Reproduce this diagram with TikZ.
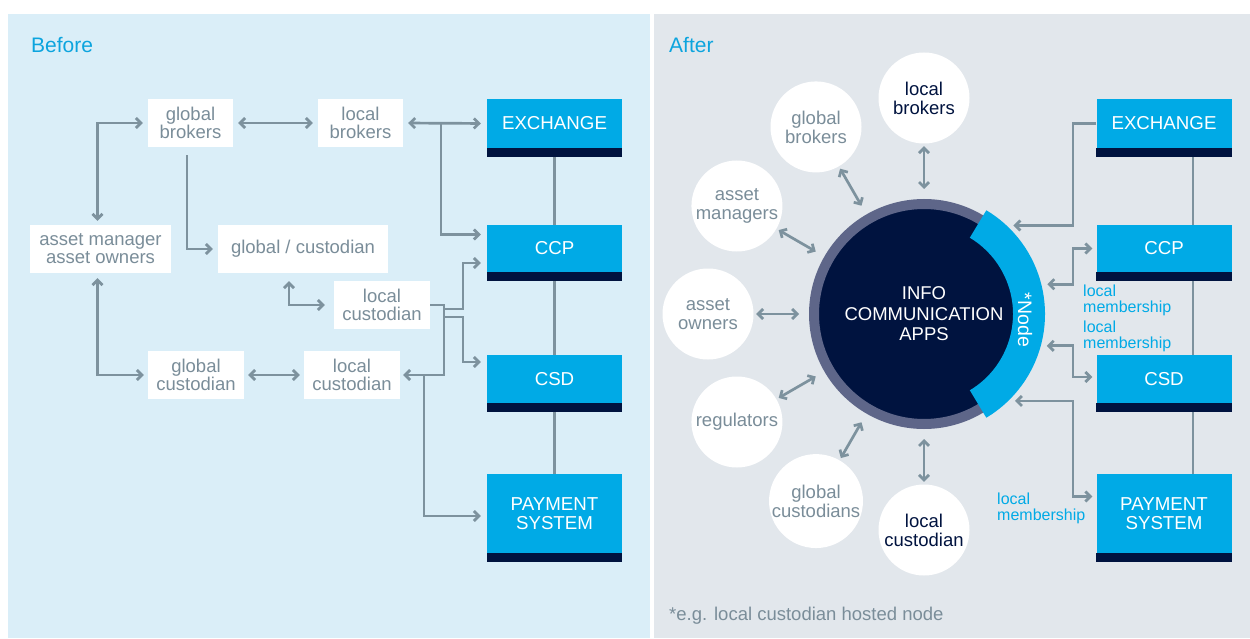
\documentclass[tikz,border=0pt]{standalone}
\usepackage{fontspec}
\setmainfont{Liberation Sans}
\usetikzlibrary{arrows.meta}

\definecolor{beforebg}{HTML}{DAEEF8}
\definecolor{afterbg}{HTML}{E2E7EC}
\definecolor{wire}{HTML}{7D929E}
\definecolor{greytext}{HTML}{7A8D99}
\definecolor{fmicyan}{HTML}{00AAE6}
\definecolor{heading}{HTML}{0CA4DE}
\definecolor{navy}{HTML}{00133F}
\definecolor{ringgrey}{HTML}{5E6689}
\newcommand{\fsz}[2]{\fontsize{#1}{#2}\selectfont}

\tikzset{
  link/.style = {draw=wire, line width=2.7pt},
  arr/.style = {link, -{Straight Barb[length=5pt,width=10pt]}, shorten >=5pt},
  both/.style = {link, {Straight Barb[length=5pt,width=10pt]}-{Straight Barb[length=5pt,width=10pt]},
    shorten >=5pt, shorten <=5pt},
  party/.style = {rectangle, fill=white, text=greytext, align=center, inner sep=0pt,
    minimum height=48pt, font=\fsz{18.5}{18}},
  fmi/.style = {rectangle, fill=fmicyan, text=white, align=center, inner sep=0pt,
    minimum width=135pt, minimum height=48pt, font=\fsz{18.7}{19}},
  sat/.style = {circle, fill=white, align=center, inner sep=0pt, minimum size=91pt,
    font=\fsz{18.5}{19}},
  memb/.style = {text=fmicyan, align=left, inner sep=0pt, anchor=north west, font=\fsz{16}{16}},
  title/.style = {text=heading, inner sep=0pt, anchor=base west, font=\fsz{21}{21}}
}

\begin{document}
\begin{tikzpicture}[x=1pt,y=-1pt]

\fill[white] (0,0) rectangle (1250,639);
\useasboundingbox (0,0) rectangle (1250,639);
\fill[beforebg] (8,14) rectangle (650,638);
\fill[afterbg] (654,14) rectangle (1250,638);

\node[title] (before) at (31,53) {Before};
\node[title] (after) at (669,53) {After};

% before: parties
\node[party, minimum width=85pt] (gb) at (190.5,123) {global\\brokers};
\node[party, minimum width=85pt, right of=gb, node distance=170pt] (lb) {local\\brokers};
\node[party, minimum width=141pt] (am) at (100.5,249) {asset manager\\asset owners};
\node[party, minimum width=170pt] (gcu) at (303,249) {global / custodian};
\node[party, minimum width=96pt] (lcu) at (382,305) {local\\custodian};
\node[party, minimum width=96pt] (gcl) at (196,375) {global\\custodian};
\node[party, minimum width=96pt, right of=gcl, node distance=156pt] (lcl) {local\\custodian};

% before: infrastructure
\node[fmi, minimum height=49pt] (ex) at (554.5,123.5) {EXCHANGE};
\node[fmi, minimum height=47pt] (ccp) at (554.5,248.5) {CCP};
\node[fmi] (csd) at (554.5,379) {CSD};
\node[fmi, minimum height=79pt] (pay) at (554.5,513.5) {PAYMENT\\SYSTEM};

\draw[link] (ex) -- (ccp);
\draw[link] (ccp) -- (csd);
\draw[link] (csd) -- (pay);

\coordinate (lbj) at (441,123);
\coordinate (lcj) at (444,305);
\coordinate (lc1) at (444,309);
\coordinate (lc2) at (444,317);
\coordinate (lpj) at (424,375);

\draw[both] (gb) -- (lb);
\draw[both, shorten >=6pt] (lb.east) -- (ex.west);
\draw[arr, shorten >=6pt] (lbj) |- ([yshift=14pt]ccp.west);
\draw[both, shorten <=4pt] ([xshift=-3pt]am.north) |- (gb.west);
\draw[arr] ([xshift=-3.5pt,yshift=-8pt]gb.south) |- (gcu.west);
\draw[both, shorten <=8pt, shorten >=9pt] ([xshift=-14pt]gcu.south) |- (lcu.west);
\draw[arr, shorten >=3pt] (lcu.east) -- (lcj) |- (lcl.east);
\draw[arr, shorten >=6pt] (lc1) -- ++(19,0) |- ([yshift=-14.5pt]ccp.west);
\draw[arr, shorten >=6pt] (lc2) -- ++(19,0) |- ([yshift=17pt]csd.west);
\draw[arr, shorten >=6pt] (lpj) |- ([yshift=-2.5pt]pay.west);
\draw[both, shorten >=4pt] ([xshift=-3pt]am.south) |- (gcl.west);
\draw[both, shorten >=4pt, shorten <=4pt] (gcl) -- (lcl);

% after: info communication apps
\node[circle, fill=navy, draw=ringgrey, line width=10pt, minimum size=220pt, inner sep=0pt,
  text=white, align=center, font=\fsz{18.5}{20.5}] (ica) at (924,314) {INFO\\COMMUNICATION\\APPS};
\fill[fmicyan] ([shift={(-59:121)}]ica.center) arc[start angle=-59, end angle=59, radius=121]
  -- ([shift={(59:89)}]ica.center) arc[start angle=59, end angle=-59, radius=89] -- cycle;
\node[rotate=-90, text=white, inner sep=0pt, font=\fsz{19.5}{19.5}] (nd) at (1025,320) {*Node};

\foreach \ang/\nm/\col/\txt in {90/slb/navy/{local\\brokers}, 120/sgb/greytext/{global\\brokers},
    150/sam/greytext/{asset\\managers}, 180/sao/greytext/{asset\\owners},
    210/srg/greytext/{regulators}, 240/sgc/greytext/{global\\custodians},
    270/slc/navy/{local\\custodian}}{
  \node[sat, text=\col] (\nm) at ([shift={(-\ang:216)}]ica.center) {\txt};
  \draw[both, shorten <=2.5pt, shorten >=10pt] (\nm) -- (ica);
}

% after: infrastructure
\node[fmi, minimum height=49pt, right of=ex, node distance=609.5pt] (rex) {EXCHANGE};
\node[fmi, minimum height=47pt, right of=ccp, node distance=609.5pt] (rccp) {CCP};
\node[fmi, right of=csd, node distance=609.5pt] (rcsd) {CSD};
\node[fmi, minimum height=79pt, right of=pay, node distance=609.5pt] (rpay) {PAYMENT\\SYSTEM};

\draw[link] ([xshift=29pt]rex.south) -- ([xshift=29pt]rccp.north);
\draw[link] ([xshift=29pt]rccp.south) -- ([xshift=29pt]rcsd.north);
\draw[link] ([xshift=29pt]rcsd.south) -- ([xshift=29pt]rpay.north);

\coordinate (rbus) at (1073,313);
\foreach \ang/\nm in {-46/cex, -14/cccp, 15/ccsd, 45/cpay}
  \coordinate (\nm) at ([shift={(\ang:123)}]ica.center);

\draw[arr, shorten >=4pt] (rex.west) -| (rbus |- cex) -- (cex);
\draw[both, shorten <=4pt, shorten >=4pt] (cccp) -- (rbus |- cccp) |- (rccp.west);
\draw[both, shorten <=4pt, shorten >=4pt] (ccsd) -- (rbus |- ccsd) |- ([yshift=2pt]rcsd.west);
\draw[both, shorten <=4pt, shorten >=4pt] (cpay) -- (rbus |- cpay) |- ([yshift=17pt]rpay.west);

\foreach \b in {ex,ccp,csd,pay,rex,rccp,rcsd,rpay}
  \fill[navy] (\b.south west) rectangle ([yshift=-8.5pt]\b.south east);

\node[memb] (m1) at (1083,285) {local\\membership};
\node[memb] (m2) at (1083,321) {local\\membership};
\node[memb] (m3) at (997,493) {local\\membership};

\node[inner sep=0pt, anchor=base west, text=greytext, font=\fsz{18.5}{18.5}] (fn) at (669,620)
  {*e.g. local custodian hosted node};

\end{tikzpicture}
\end{document}
